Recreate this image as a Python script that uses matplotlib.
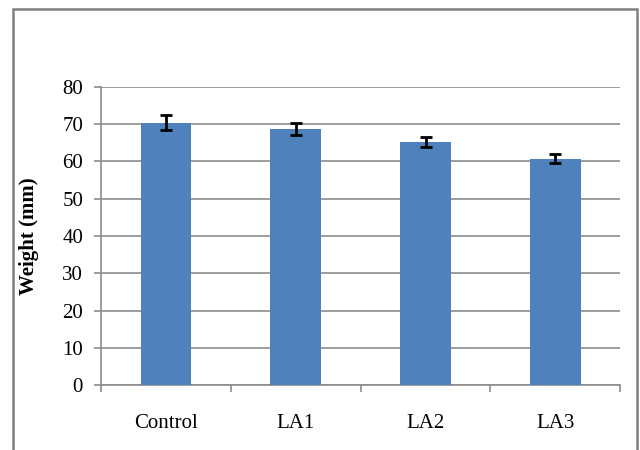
import numpy as np
import matplotlib
matplotlib.use("Agg")
import matplotlib.pyplot as plt
from matplotlib.patches import Rectangle

# data
groups = ["Control", "LA1", "LA2", "LA3"]
weight = [70.4, 68.7, 65.2, 60.7]
err = [2.1, 1.7, 1.3, 1.2]

plt.rcParams['font.family'] = ['Liberation Serif', 'DejaVu Serif']

fig = plt.figure(figsize=(6.4, 4.5), dpi=100)
ax = fig.add_axes([0.158, 0.144, 0.811, 0.663])

x = np.arange(len(groups))
ax.bar(x, weight, width=0.39, color='#4F81BD', zorder=3)
ax.errorbar(x, weight, yerr=err, fmt='none', ecolor='black',
            elinewidth=2, capsize=4.5, capthick=2, zorder=4)

ax.set_xlim(-0.5, len(groups) - 0.5)
ax.set_ylim(0, 80)
ax.set_yticks(range(0, 81, 10))
ax.yaxis.grid(True, color='#8c8c8c', linewidth=1.2, zorder=0)
ax.set_xticks(x)
ax.set_xticklabels(groups, fontsize=15)
ax.set_xticks(np.arange(-0.5, len(groups)), minor=True)
ax.tick_params(axis='x', which='major', length=0, pad=21)
ax.tick_params(axis='x', which='minor', length=5, color='#8c8c8c', width=1.2)
ax.tick_params(axis='y', length=5, color='#8c8c8c', width=1.2, labelsize=15, pad=8)

for s in ['top', 'right']:
    ax.spines[s].set_visible(False)
for s in ['left', 'bottom']:
    ax.spines[s].set_color('#8c8c8c')
    ax.spines[s].set_linewidth(1.2)

ax.set_ylabel("Weight (mm)", fontsize=15, fontweight='bold', labelpad=17)

# outer chart border
fig.patches.append(Rectangle((13 / 640, -0.05), 624 / 640, 1.05 - 9 / 450,
                             transform=fig.transFigure, fill=False,
                             edgecolor='#808080', linewidth=1.8))

fig.savefig("out.png", dpi=100)
